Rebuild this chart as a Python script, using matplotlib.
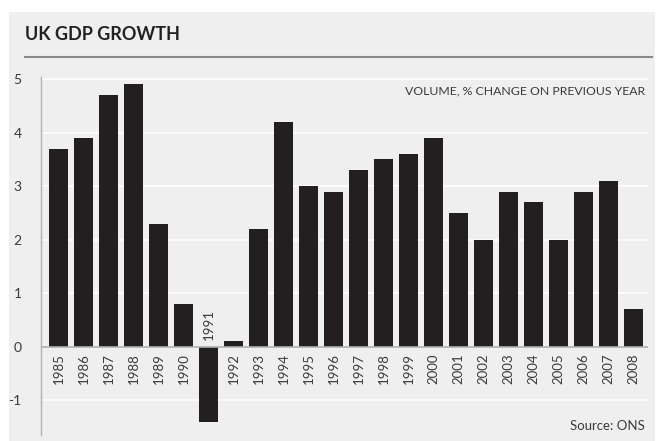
import matplotlib
matplotlib.use("Agg")
import matplotlib.pyplot as plt
from matplotlib.patches import Rectangle
from matplotlib.lines import Line2D

plt.rcParams['font.family'] = ['Lato', 'DejaVu Sans']

years = [1985, 1986, 1987, 1988, 1989, 1990, 1991, 1992, 1993, 1994, 1995, 1996,
         1997, 1998, 1999, 2000, 2001, 2002, 2003, 2004, 2005, 2006, 2007, 2008]
growth = [3.7, 3.9, 4.7, 4.9, 2.3, 0.8, -1.4, 0.1, 2.2, 4.2, 3.0, 2.9,
          3.3, 3.5, 3.6, 3.9, 2.5, 2.0, 2.9, 2.7, 2.0, 2.9, 3.1, 0.7]
yticks = [-1, 0, 1, 2, 3, 4, 5]

W, H = 657, 441
fig = plt.figure(figsize=(W / 100, H / 100), dpi=100, facecolor='white')

# grey panel
fig.add_artist(Rectangle((9 / W, 0), 646 / W, (H - 12) / H, transform=fig.transFigure,
                         facecolor='#efefef', edgecolor='none', zorder=-10))

fig.text(25 / W, 1 - 35 / H, 'UK GDP GROWTH', fontsize=13, fontweight='bold',
         color='#222222', va='center', ha='left')
fig.add_artist(Line2D([25 / W, 652 / W], [1 - 57 / H, 1 - 57 / H], transform=fig.transFigure,
                      color='#8a8a8a', lw=1.5))

ax = fig.add_axes([41 / W, 6 / H, 607 / W, 358 / H])
ax.patch.set_visible(False)

x = list(range(len(years)))
for yv in yticks:
    if yv == 0:
        continue
    ax.axhline(yv, color='white', lw=1.2, zorder=1)
ax.bar(x, growth, width=0.76, color='#231f20', zorder=2)
ax.axhline(0, color='#b0b0b0', lw=1.2, zorder=3)

for xi, yr, g in zip(x, years, growth):
    if g < 0:
        ax.text(xi, 0.12, str(yr), rotation=90, ha='center', va='bottom',
                fontsize=9.5, color='#3a3a3a')
    else:
        ax.text(xi, -0.12, str(yr), rotation=90, ha='center', va='top',
                fontsize=9.5, color='#3a3a3a')

ax.set_xlim(-0.7, 23.58)
ax.set_ylim(-1.65, 5.04)
ax.set_xticks([])
ax.set_yticks(yticks)
ax.set_yticklabels([str(t) for t in yticks], fontsize=10, color='#3a3a3a')
ax.tick_params(axis='y', length=0, pad=14)
for s in ['top', 'right', 'bottom']:
    ax.spines[s].set_visible(False)
ax.spines['left'].set_color('#b0b0b0')
ax.spines['left'].set_linewidth(1)

ax.text(0.995, 0.96, 'VOLUME, % CHANGE ON PREVIOUS YEAR', transform=ax.transAxes,
        ha='right', va='center', fontsize=8.8, color='#3a3a3a')
ax.text(0.995, 0.025, 'Source: ONS', transform=ax.transAxes,
        ha='right', va='center', fontsize=9.5, color='#3a3a3a')

fig.savefig('out.png', dpi=100, facecolor='white')
